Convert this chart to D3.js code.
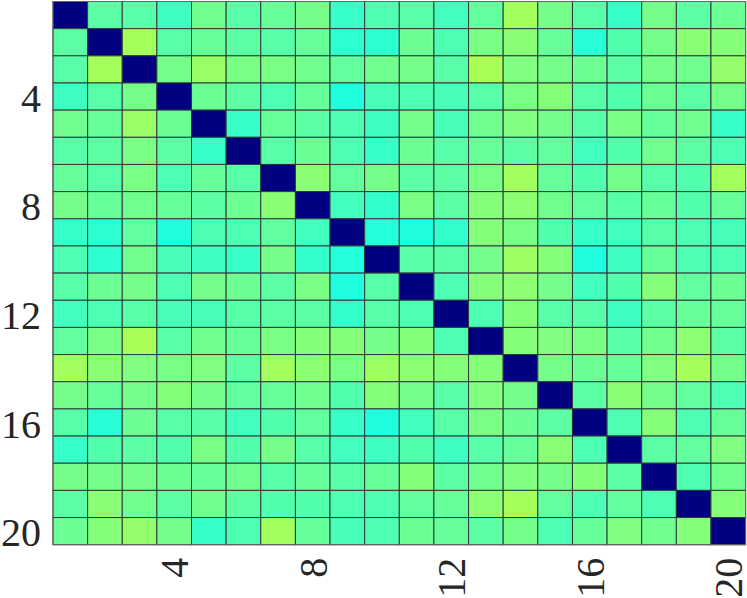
<!DOCTYPE html>
<html>
<head>
<meta charset="utf-8">
<script src="https://cdn.jsdelivr.net/npm/d3@7"></script>
<style>
html,body{margin:0;padding:0;background:#fff;overflow:hidden}
svg{display:block}
text{font-family:"Liberation Serif",serif;fill:#262626}
</style>
</head>
<body>
<svg id="chart" width="747" height="598"></svg>
<script>
const categories = d3.range(1, 21);
const tickLabels = [4, 8, 12, 16, 20];
// Upper triangle of the symmetric matrix; each row starts just right of the diagonal
const row1 = [.465,.46,.435,.485,.46,.475,.49,.43,.45,.46,.44,.47,.533,.49,.46,.43,.49,.465,.48];
const row2 = [.537,.46,.475,.465,.46,.475,.42,.42,.48,.45,.495,.51,.475,.415,.455,.49,.51,.505];
const row3 = [.49,.525,.495,.495,.485,.47,.485,.49,.46,.542,.50,.49,.48,.465,.49,.485,.52];
const row4 = [.48,.465,.45,.475,.405,.445,.45,.445,.46,.495,.505,.46,.455,.48,.465,.49];
const row5 = [.43,.475,.465,.45,.435,.49,.445,.485,.50,.49,.46,.495,.475,.485,.43];
const row6 = [.46,.48,.45,.43,.48,.46,.475,.465,.47,.44,.455,.485,.465,.45];
const row7 = [.51,.47,.49,.465,.465,.495,.533,.475,.455,.49,.46,.455,.533];
const row8 = [.44,.425,.495,.465,.505,.512,.485,.47,.46,.475,.455,.475];
const row9 = [.41,.405,.425,.505,.495,.455,.43,.44,.46,.45,.445];
const row10 = [.46,.46,.49,.528,.505,.405,.435,.475,.45,.45];
const row11 = [.45,.505,.512,.49,.44,.455,.505,.47,.48];
const row12 = [.45,.505,.46,.46,.435,.465,.475,.475];
const row13 = [.505,.50,.495,.46,.485,.512,.465];
const row14 = [.49,.48,.475,.50,.537,.49];
const row15 = [.465,.51,.49,.47,.45];
const row16 = [.45,.505,.45,.475];
const row17 = [.465,.47,.50];
const row18 = [.45,.485];
const row19 = [.505];
const upper = [row1,row2,row3,row4,row5,row6,row7,row8,row9,row10,row11,row12,row13,row14,row15,row16,row17,row18,row19];
const diagonalValue = 0;

const valueAt = (r, c) => r === c ? diagonalValue
  : r < c ? upper[r - 1][c - r - 1] : upper[c - 1][r - c - 1];
const cells = categories.flatMap(r => categories.map(c => ({r, c, v: valueAt(r, c)})));

const plotLeft = 53, plotRight = 745.6, plotTop = 1.5, plotBottom = 544.7;
const x = d3.scaleBand().domain(categories).range([plotLeft, plotRight]);
const y = d3.scaleBand().domain(categories).range([plotTop, plotBottom]);
const jet = d3.scaleLinear()
  .domain([0, .125, .375, .625, .875, 1])
  .range(["#000080", "#0000ff", "#00ffff", "#ffff00", "#ff0000", "#800000"])
  .clamp(true);

const svg = d3.select("#chart");
svg.append("g").selectAll("rect").data(cells).join("rect")
  .attr("x", d => x(d.c))
  .attr("y", d => y(d.r))
  .attr("width", x.bandwidth())
  .attr("height", y.bandwidth())
  .attr("fill", d => jet(d.v))
  .attr("stroke", "#2f3a3a")
  .attr("stroke-width", 1);

svg.append("rect")
  .attr("x", plotLeft).attr("y", plotTop)
  .attr("width", plotRight - plotLeft).attr("height", plotBottom - plotTop)
  .attr("fill", "none").attr("stroke", "#666").attr("stroke-width", 1);

const yAxis = svg.append("g").attr("transform", `translate(${plotLeft},0)`)
  .call(d3.axisLeft(y).tickValues(tickLabels).tickSize(0).tickPadding(12));
yAxis.select(".domain").remove();
yAxis.selectAll("text").attr("font-size", 40).attr("dy", "0.38em")
  .style("font-family", '"Liberation Serif",serif').style("fill", "#262626");

const xAxis = svg.append("g").attr("transform", `translate(0,${plotBottom})`)
  .call(d3.axisBottom(x).tickValues(tickLabels).tickSize(0).tickPadding(0));
xAxis.select(".domain").remove();
xAxis.selectAll("text")
  .attr("font-size", 40)
  .attr("text-anchor", "end")
  .attr("x", 0).attr("y", 0).attr("dy", 0)
  .attr("transform", "translate(14,13) rotate(-90)")
  .style("font-family", '"Liberation Serif",serif').style("fill", "#262626");
</script>
</body>
</html>
